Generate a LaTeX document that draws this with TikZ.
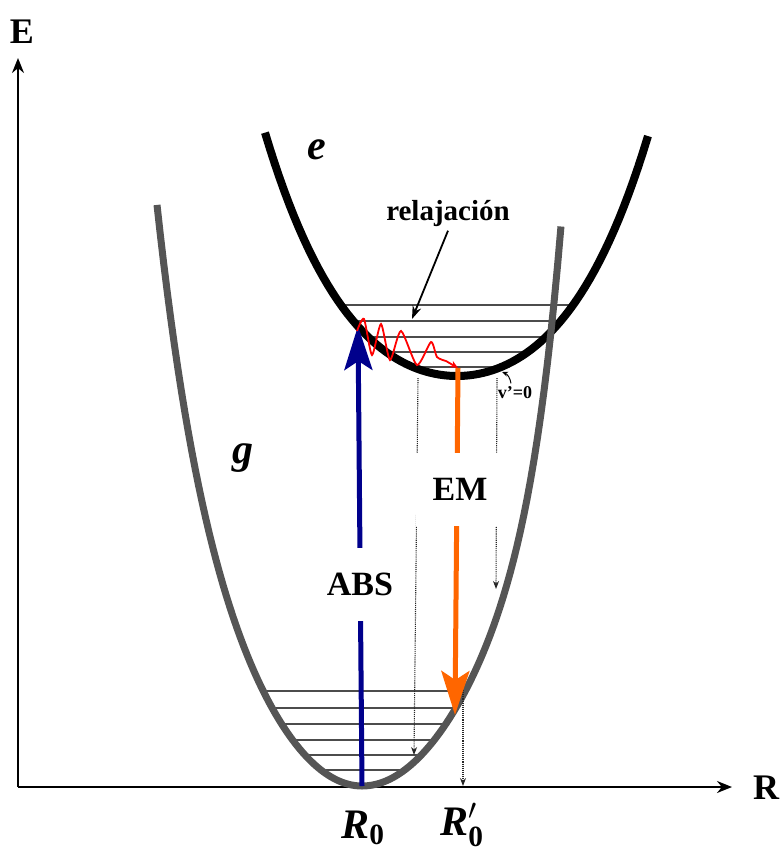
\documentclass[tikz,border=0pt]{standalone}
\usepackage{fix-cm}
\usepackage{amsmath}
\usepackage{fontspec}
\setmainfont{Liberation Serif}
\usepackage{tikz}
\usetikzlibrary{arrows.meta,positioning}

\definecolor{gcol}{RGB}{85,85,85}
\definecolor{absblue}{RGB}{0,0,140}
\definecolor{emorange}{RGB}{255,102,0}

% potential curves (pixel coordinates, y downwards; u = dx/100)
\def\gcurve{plot[domain=-2.05:0, samples=60] ({362+100*\x},{786-95*\x*\x-2.45*(\x*\x)^3})
  -- plot[domain=0:1.99, samples=60] ({362+100*\x},{786-88*\x*\x-0.86*(\x*\x)^4})}
\def\ecurve{plot[domain=-1.92:1.91, samples=80] ({457+100*\x},{376-45*\x*\x-5.7*(\x*\x)^2})}

\begin{document}
\begin{tikzpicture}[x=1pt, y=-1pt,
    lvl/.style={draw=black!70, line width=1.4pt},
    axis/.style={line width=2pt, -{Stealth[length=15pt, width=12pt]}},
    trans/.style={line width=5pt, -{Stealth[length=44pt, width=28pt, inset=9pt]}},
    drop/.style={draw=black!85, line width=1.1pt, densely dotted, -{Stealth[length=8pt, width=6pt]}},
    lbl/.style={fill=white, inner sep=0pt, minimum height=73pt, font=\fontsize{34}{40}\selectfont\bfseries},
    ax/.style={font=\fontsize{36}{40}\selectfont\bfseries},
    state/.style={font=\fontsize{42}{46}\selectfont\bfseries\itshape},
    poslab/.style={font=\fontsize{42}{46}\selectfont}
]
\useasboundingbox (0,0) rectangle (780,855);

% Axes
\coordinate (o) at (18,787);
\coordinate (xend) at (732,787);
\coordinate (yend) at (18,58);
\draw[axis] (o) -- (xend);
\draw[axis] (o) -- (yend);
\node (E) at (22,32) [ax] {E};
\node (R) at (766,788) [ax] {R};

% Vibrational levels
\begin{scope}
  \clip \gcurve -- cycle;
  \foreach \y in {691,708,724,740,755,770}
    \draw[lvl] (150,\y) -- (580,\y);
\end{scope}
\begin{scope}
  \clip \ecurve -- cycle;
  \foreach \y in {305,321,337,352,367}
    \draw[lvl] (250,\y) -- (660,\y);
\end{scope}

% Curves
\draw[line width=8pt] \ecurve;
\draw[gcol, line width=7pt] \gcurve;
\node (e) at (317,150) [state] {e};
\node (g) at (243,458) [state] {g};

% Vertical projections
\coordinate (d1a) at (418,378);
\coordinate (d1b) at (414,755);
\coordinate (d2a) at (497,378);
\coordinate (d2b) at (496,589);
\coordinate (d3a) at (463,690);
\coordinate (r0p) at (463,786);
\draw[drop] (d1a) -- (d1b);
\draw[drop] (d2a) -- (d2b);
\draw[drop] (d3a) -- (r0p);

% Absorption and emission
\coordinate (r0) at (362,786);
\coordinate (eup) at (358,326);
\coordinate (ebot) at (458,368);
\coordinate (gem) at (455,715);
\draw[trans, absblue] (r0) -- (eup);
\draw[trans, emorange] (ebot) -- (gem);
\node (abs) at (360,584) [lbl, minimum width=80pt] {ABS};
\node (em) at (460,489) [lbl, minimum width=88pt] {EM};

% Relaxation
\draw[red, line width=1.8pt, -{Stealth[length=8pt, width=7pt]}]
  plot[smooth, tension=0.4] coordinates {(357,331) (364,319) (372,355) (381,324) (390,360) (401,331) (417,365) (431,342) (437,357) (446,361)} -- (ebot);
\node (relax) at (448,214) [font=\fontsize{29}{34}\selectfont\bfseries] {relajación};
\coordinate (relaxtip) at (412,319);
\draw[line width=1.8pt, -{Stealth[length=13pt, width=9pt]}] (relax.south) -- (relaxtip);
\node (v0) at (515,393) [font=\fontsize{18}{20}\selectfont\bfseries] {v'=0};
\coordinate (vtip) at (502,372);
\draw[line width=1pt, -{Stealth[length=6pt, width=5pt]}] ([xshift=-4pt]v0.north) to[bend right=30] (vtip);

% Positions
\node (r0lab) at (363,828) [poslab] {$\textbf{\textit{R}}_{\textbf{0}}$};
\node (r0plab) at (462,825) [poslab] {$\textbf{\textit{R}}'_{\textbf{0}}$};

\end{tikzpicture}
\end{document}
